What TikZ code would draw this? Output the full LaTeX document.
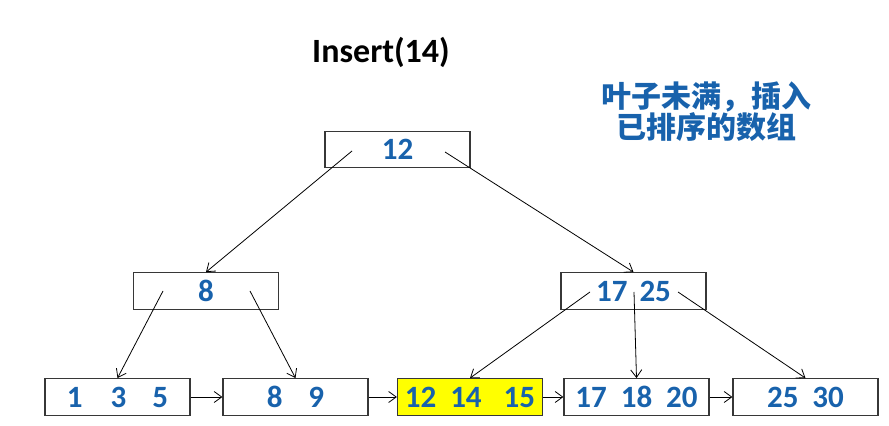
\documentclass[tikz,border=0pt]{standalone}
\usepackage{fontspec}
\setmainfont{Carlito}
\newfontfamily\cjk{Noto Sans CJK SC}
\usetikzlibrary{arrows, arrows.meta, calc, positioning}

\definecolor{numblue}{RGB}{24,98,172}
\definecolor{boxline}{RGB}{55,55,55}
\definecolor{hilite}{RGB}{255,255,0}

\tikzset{
    keybox/.style={draw=boxline, line width=0.6pt, minimum width=72.5pt, minimum height=18.3pt,
        inner sep=0pt, text=numblue, font=\fontsize{15.5}{18}\selectfont\bfseries},
    link/.style={-{Straight Barb[length=3.8pt, width=5.5pt]}, line width=0.4pt}
}
\newcommand{\gap}[1]{\hspace*{#1pt}}

\begin{document}
\begin{tikzpicture}[x=0.5pt, y=-0.5pt]
                    \useasboundingbox (0, 0) rectangle (889, 426);

                    \node (Ti) at (381, 52) { \fontsize{17}{20}\selectfont\bfseries Insert(14) };
                    \node [text=numblue, align=center, font=\cjk\bfseries\fontsize{15}{15.5}\selectfont] (Tc) at (706, 112)
                        { 叶子未满，插入\\ 已排序的数组 };

                    \node [keybox] (Nr) at (397.5, 149.5) { 12 };
                    \node [keybox] (Nl) at (206, 291) { 8 };
                    \node [keybox] (Nm) at (633.5, 291) { 17\gap{6}25 };

                    \node [keybox] (L1) at (117.5, 397) { 1\gap{14}3\gap{13}5 };
                    \node [keybox] (L2) at (295.5, 397) { 8\gap{13}9 };
                    \node [keybox, fill=hilite] (L3) at (470, 397) { 12\gap{7}14\gap{11}15 };
                    \node [keybox] (L4) at (636.5, 397) { 17\gap{7}18\gap{7}20 };
                    \node [keybox] (L5) at (805.5, 397) { 25\gap{7}30 };

                    % start points inside the boxes
                    \coordinate (Ra) at (352, 151);
                    \coordinate (Rb) at (445, 152);
                    \coordinate (La) at (163, 291);
                    \coordinate (Lb) at (250, 291);
                    \coordinate (Ma) at (590, 292);
                    \coordinate (Mb) at (634, 292);
                    \coordinate (Mc) at (678, 292);

                    \draw [link] (Ra) -- (Nl.north);
                    \draw [link] (Rb) -- (Nm.north);
                    \draw [link] (La) -- (L1.north);
                    \draw [link] (Lb) -- (L2.north);
                    \draw [link] (Ma) -- (L3.north);
                    \draw [link] (Mb) -- (L4.north);
                    \draw [link] (Mc) -- (L5.north);

                    \draw [link] (L1.east) -- (L2.west);
                    \draw [link] (L2.east) -- (L3.west);
                    \draw [link] (L3.east) -- (L4.west);
                    \draw [link] (L4.east) -- (L5.west);
            \end{tikzpicture}
\end{document}
